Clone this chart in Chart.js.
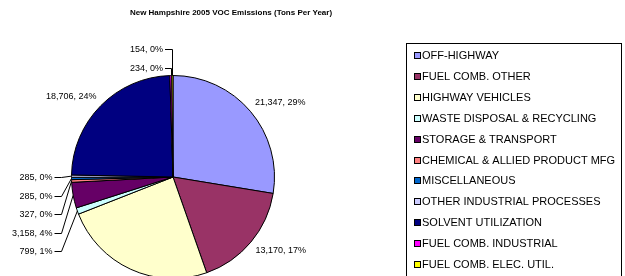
<!DOCTYPE html>
<html lang="en">
<head>
  <meta charset="UTF-8" />
  <title>New Hampshire 2005 VOC Emissions</title>
  <style>
    html, body { margin: 0; padding: 0; background: #fff; overflow: hidden; }
    .wrap { width: 625px; height: 276px; overflow: hidden; }
    canvas { display: block; }
  </style>
</head>
<body>
  <div class="wrap"><canvas id="vocChart" width="625" height="340"></canvas></div>

  <script src="https://cdn.jsdelivr.net/npm/chart.js"></script>
  <script>
    const chartTitle = 'New Hampshire 2005 VOC Emissions (Tons Per Year)';
    const categories = [
      'OFF-HIGHWAY', 'FUEL COMB. OTHER', 'HIGHWAY VEHICLES', 'WASTE DISPOSAL & RECYCLING',
      'STORAGE & TRANSPORT', 'CHEMICAL & ALLIED PRODUCT MFG', 'MISCELLANEOUS',
      'OTHER INDUSTRIAL PROCESSES', 'SOLVENT UTILIZATION', 'FUEL COMB. INDUSTRIAL', 'FUEL COMB. ELEC. UTIL.'
    ];
    const emissions = [21347, 13170, 18900, 799, 3158, 327, 285, 285, 18706, 234, 154];
    const percentLabels = ['29%', '17%', '24%', '1%', '4%', '0%', '0%', '0%', '24%', '0%', '0%'];
    const sliceColors = [
      '#9999FF', '#993366', '#FFFFCC', '#CCFFFF', '#660066', '#FF8080',
      '#0066CC', '#CCCCFF', '#000080', '#FF00FF', '#FFFF00'
    ];

    // title, callout labels and the boxed legend, drawn Excel-style
    const excelBits = {
      id: 'excelBits',
      afterDraw(chart) {
        const ctx = chart.ctx;
        const meta = chart.getDatasetMeta(0);
        const total = emissions.reduce((a, b) => a + b, 0);
        ctx.save();

        ctx.fillStyle = '#000';
        ctx.font = 'bold 8px Arial';
        ctx.textAlign = 'center';
        ctx.textBaseline = 'middle';
        ctx.fillText(chartTitle, 231, 13);

        ctx.font = '9px Arial';
        ctx.strokeStyle = '#000';
        ctx.lineWidth = 1;
        const left = [], top = [];
        meta.data.forEach((arc, i) => {
          const mid = (arc.startAngle + arc.endAngle) / 2;
          const r = arc.outerRadius;
          const px = arc.x + r * Math.cos(mid), py = arc.y + r * Math.sin(mid);
          const text = emissions[i].toLocaleString('en-US') + ', ' + percentLabels[i];
          if (emissions[i] / total >= 0.06) {
            const lx = arc.x + (r + 6) * Math.cos(mid), ly = arc.y + (r + 6) * Math.sin(mid);
            ctx.textAlign = Math.cos(mid) >= 0 ? 'left' : 'right';
            ctx.textBaseline = Math.sin(mid) < 0 ? 'bottom' : 'top';
            ctx.fillText(text, lx, ly);
          } else if (py < arc.y - r * 0.9) {
            top.push({ mid, px, py, text, arc });
          } else {
            left.push({ mid, px, py, text, arc });
          }
        });

        ctx.textBaseline = 'middle';
        ctx.textAlign = 'right';
        left.sort((a, b) => b.mid - a.mid).forEach((d, k) => {
          const y = Math.round(d.arc.y + k * 18.6) + 0.5;
          const tx = d.arc.x - d.arc.outerRadius - 19;
          const ex = d.arc.x - d.arc.outerRadius - 10;
          ctx.fillText(d.text, tx, y);
          ctx.beginPath();
          ctx.moveTo(tx + 2, y);
          ctx.lineTo(ex, y);
          ctx.lineTo(d.px, d.py);
          ctx.stroke();
        });

        top.sort((a, b) => a.mid - b.mid).forEach((d, k) => {
          const y = Math.round(d.arc.y - d.arc.outerRadius - 8 - k * 19) + 0.5;
          const tx = d.arc.x - 10;
          const ex = Math.round(d.px) + 0.5;
          ctx.fillText(d.text, tx, y);
          ctx.beginPath();
          ctx.moveTo(tx + 2, y);
          ctx.lineTo(ex, y);
          ctx.lineTo(ex, d.py);
          ctx.stroke();
        });

        // legend
        ctx.strokeRect(406.5, 43.5, 215, 300);
        ctx.font = '11px Arial';
        ctx.textAlign = 'left';
        categories.forEach((name, i) => {
          const y = Math.round(55 + i * 20.9);
          ctx.fillStyle = sliceColors[i];
          ctx.fillRect(415, y - 2, 5, 5);
          ctx.strokeRect(414.5, y - 2.5, 6, 6);
          ctx.fillStyle = '#000';
          ctx.fillText(name, 422, y + 0.5);
        });
        ctx.restore();
      }
    };

    new Chart(document.getElementById('vocChart').getContext('2d'), {
      type: 'pie',
      data: {
        labels: categories,
        datasets: [{
          data: emissions,
          backgroundColor: sliceColors,
          borderColor: '#000',
          borderWidth: 1
        }]
      },
      options: {
        responsive: false,
        animation: false,
        devicePixelRatio: 1,
        layout: { padding: { left: 71, top: 75, right: 350, bottom: 61 } },
        plugins: { legend: { display: false }, tooltip: { enabled: false } }
      },
      plugins: [excelBits]
    });
  </script>
</body>
</html>
